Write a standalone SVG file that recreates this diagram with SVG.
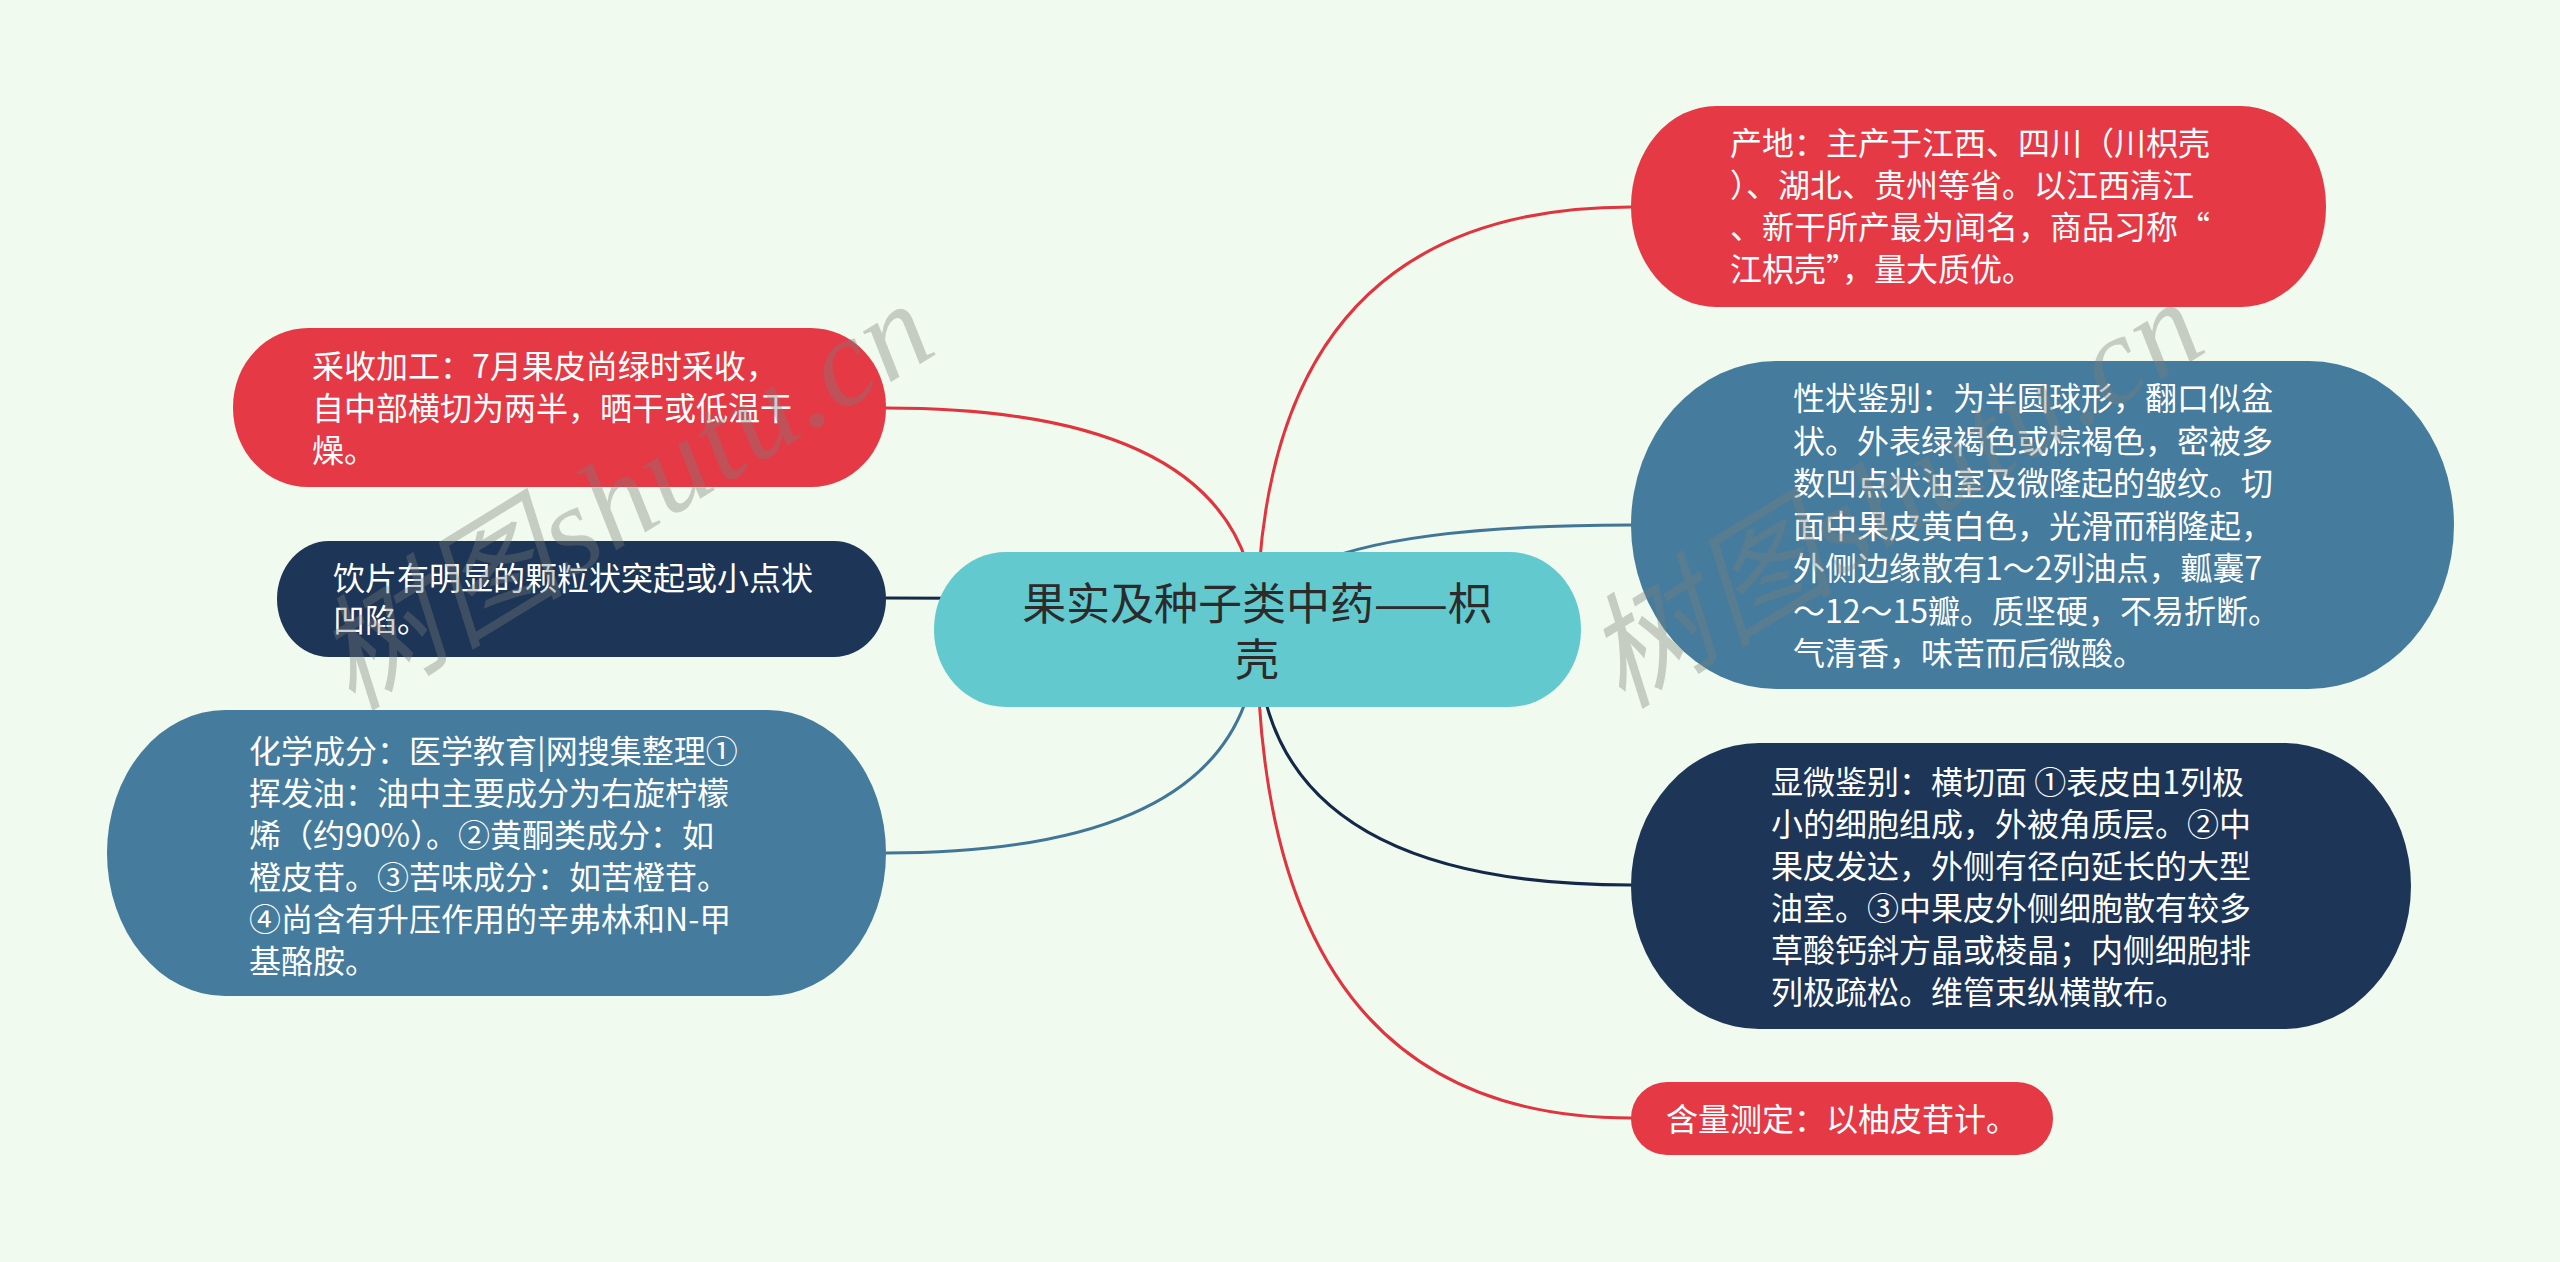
<svg xmlns="http://www.w3.org/2000/svg" width="2560" height="1262" viewBox="0 0 2560 1262">
<style>
.bg{fill:#F1FAEE}
.t{font-family:"Noto Sans CJK SC","Noto Sans",sans-serif;font-size:32px;fill:#FFFFFF}
.rt{font-family:"Noto Sans CJK SC","Noto Sans",sans-serif;font-size:44px;fill:#2B2B2B;text-anchor:middle}
.red{fill:#E63946}
.blue{fill:#457B9D}
.navy{fill:#1D3557}
.root{fill:#62C9CE}
.c{fill:none;stroke-width:3;stroke-linecap:round}
.cr{stroke:#E0343F}
.cb{stroke:#427698}
.cn{stroke:#14284A}
.wm{font-family:"Liberation Serif","Noto Sans CJK SC",serif;font-style:italic;font-size:125px;fill:#7A7F7A;opacity:0.36}
</style>
<rect class="bg" x="0" y="0" width="2560" height="1262"/>
<g id="connectors">
<path class="c cr" d="M1257,630 Q1257,207 1631,207"/>
<path class="c cb" d="M1257,630 Q1257,525 1631,525"/>
<path class="c cn" d="M1257,630 Q1257,885 1631,885"/>
<path class="c cr" d="M1257,630 Q1257,1118 1631,1118"/>
<path class="c cr" d="M1257,630 Q1257,408 886,408"/>
<path class="c cn" d="M1257,630 Q1257,598 886,598"/>
<path class="c cb" d="M1257,630 Q1257,853 886,853"/>
</g>
<g id="root">
<rect class="root" x="934" y="552" width="647" height="155" rx="72" ry="77"/>
<text class="rt" x="1257" y="620">果实及种子类中药——枳</text>
<text class="rt" x="1257" y="676">壳</text>
</g>
<g id="node-chandi">
<rect class="red" x="1631" y="106" width="695" height="201" rx="85" ry="100"/>
<text class="t" x="1730" y="155">产地：主产于江西、四川（川枳壳</text>
<text class="t" x="1730" y="197">）、湖北、贵州等省。以江西清江</text>
<text class="t" x="1730" y="239">、新干所产最为闻名，商品习称“</text>
<text class="t" x="1730" y="281">江枳壳”，量大质优。</text>
</g>
<g id="node-xingzhuang">
<rect class="blue" x="1631" y="361" width="823" height="328" rx="145" ry="164"/>
<text class="t" x="1793" y="410">性状鉴别：为半圆球形，翻口似盆</text>
<text class="t" x="1793" y="452.5">状。外表绿褐色或棕褐色，密被多</text>
<text class="t" x="1793" y="495">数凹点状油室及微隆起的皱纹。切</text>
<text class="t" x="1793" y="537.5">面中果皮黄白色，光滑而稍隆起，</text>
<text class="t" x="1793" y="580">外侧边缘散有1～2列油点，瓤囊7</text>
<text class="t" x="1793" y="622.5">～12～15瓣。质坚硬，不易折断。</text>
<text class="t" x="1793" y="665">气清香，味苦而后微酸。</text>
</g>
<g id="node-xianwei">
<rect class="navy" x="1631" y="743" width="780" height="286" rx="128" ry="143"/>
<text class="t" x="1771" y="794">显微鉴别：横切面 ①表皮由1列极</text>
<text class="t" x="1771" y="836">小的细胞组成，外被角质层。②中</text>
<text class="t" x="1771" y="878">果皮发达，外侧有径向延长的大型</text>
<text class="t" x="1771" y="920">油室。③中果皮外侧细胞散有较多</text>
<text class="t" x="1771" y="962">草酸钙斜方晶或棱晶；内侧细胞排</text>
<text class="t" x="1771" y="1004">列极疏松。维管束纵横散布。</text>
</g>
<g id="node-hanliang">
<rect class="red" x="1631" y="1082" width="422" height="73" rx="36" ry="36"/>
<text class="t" x="1666" y="1131">含量测定：以柚皮苷计。</text>
</g>
<g id="node-caishou">
<rect class="red" x="233" y="328" width="653" height="159" rx="75" ry="79"/>
<text class="t" x="312" y="378">采收加工：7月果皮尚绿时采收，</text>
<text class="t" x="312" y="420">自中部横切为两半，晒干或低温干</text>
<text class="t" x="312" y="462">燥。</text>
</g>
<g id="node-yinpian">
<rect class="navy" x="277" y="541" width="609" height="116" rx="52" ry="58"/>
<text class="t" x="333" y="590">饮片有明显的颗粒状突起或小点状</text>
<text class="t" x="333" y="632">凹陷。</text>
</g>
<g id="node-huaxue">
<rect class="blue" x="107" y="710" width="779" height="286" rx="118" ry="143"/>
<text class="t" x="249" y="763">化学成分：医学教育|网搜集整理①</text>
<text class="t" x="249" y="805">挥发油：油中主要成分为右旋柠檬</text>
<text class="t" x="249" y="847">烯（约90%）。②黄酮类成分：如</text>
<text class="t" x="249" y="889">橙皮苷。③苦味成分：如苦橙苷。</text>
<text class="t" x="249" y="931">④尚含有升压作用的辛弗林和N-甲</text>
<text class="t" x="249" y="973">基酪胺。</text>
</g>
<g id="watermarks">
<text class="wm" transform="translate(352,712) rotate(-31.5)" textLength="690" lengthAdjust="spacing">树图shutu.cn</text>
<text class="wm" transform="translate(1622,710) rotate(-31.5)" textLength="690" lengthAdjust="spacing">树图shutu.cn</text>
</g>
</svg>
